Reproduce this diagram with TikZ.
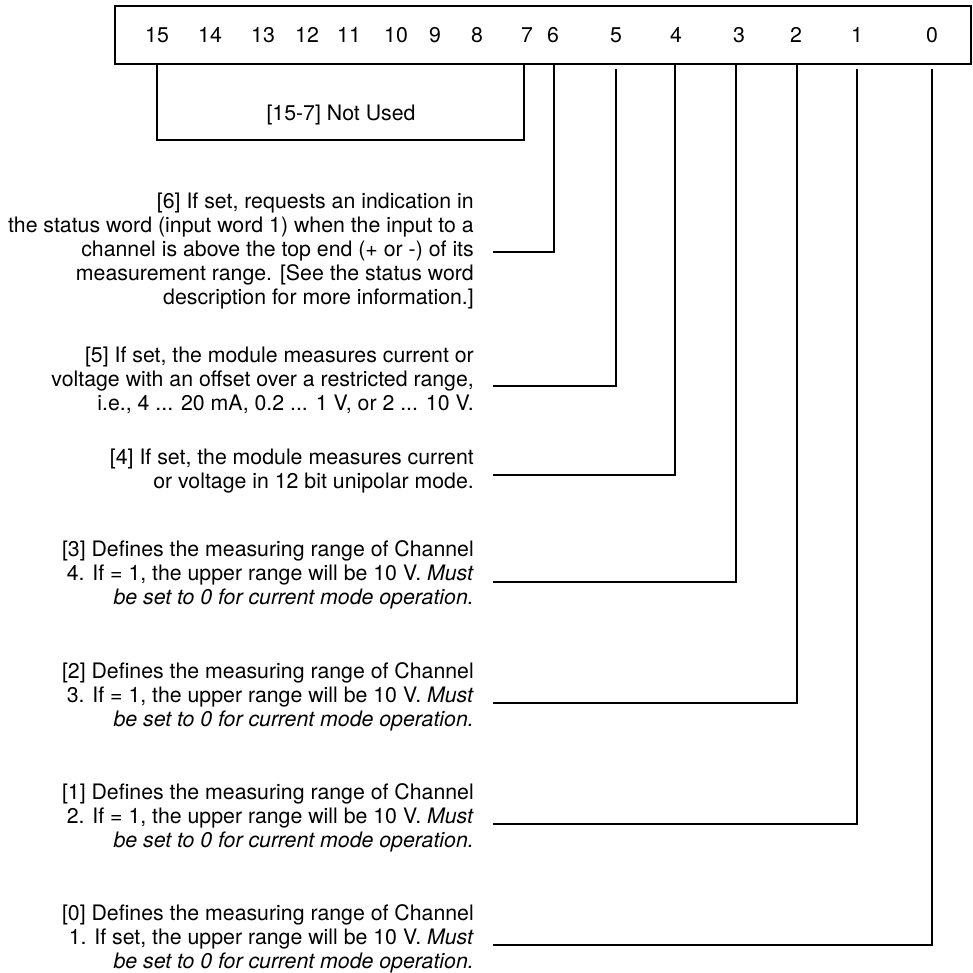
\documentclass[tikz,border=0pt]{standalone}
\usepackage{fontspec}
\setmainfont{TeX Gyre Heros}
\begin{document}
\begin{tikzpicture}[x=1pt,y=-1pt,
  every node/.style={inner sep=0pt,font=\fontsize{21.3}{24}\selectfont},
  bitlbl/.style={anchor=center},
  desc/.style={align=right,anchor=east},
  wire/.style={line width=2pt,line join=miter},
  regbox/.style={draw,line width=2pt,minimum width=856pt,minimum height=58pt}]
\useasboundingbox (0,0) rectangle (972,973);
\node[regbox] (reg) at (543,35) {};
% bit labels
\foreach \n/\x in {15/157,14/210,13/263,12/307,11/349,10/396,9/435,8/477,7/527,6/553,5/616,4/676,3/739,2/796,1/857,0/932}
  \node[bitlbl] (b\n) at (\x,35) {\n};
% not used bracket
\coordinate (u15) at (157,64);
\coordinate (u7) at (524,64);
\coordinate (ua) at (157,140);
\coordinate (ub) at (524,140);
\draw[wire] (u15) -- (ua) -- (ub) -- (u7);
\node (nu) at (341,115) {[15-7] Not Used};
% descriptions
\node[desc] (t6) at (474,251) {[6] If set, requests an indication in\\the status word (input word 1) when the input to a\\channel is above the top end (+ or -) of its\\measurement range. [See the status word\\description for more information.]};
\node[desc] (t5) at (474,380) {[5] If set, the module measures current or\\voltage with an offset over a restricted range,\\i.e., 4 ... 20 mA, 0.2 ... 1 V, or 2 ... 10 V.};
\node[desc] (t4) at (474,471) {[4] If set, the module measures current\\or voltage in 12 bit unipolar mode.};
\node[desc] (t3) at (474,575) {[3] Defines the measuring range of Channel\\4. If = 1, the upper range will be 10 V. \textit{Must}\\\textit{be set to 0 for current mode operation.}};
\node[desc] (t2) at (474,697) {[2] Defines the measuring range of Channel\\3. If = 1, the upper range will be 10 V. \textit{Must}\\\textit{be set to 0 for current mode operation.}};
\node[desc] (t1) at (474,818) {[1] Defines the measuring range of Channel\\2. If = 1, the upper range will be 10 V. \textit{Must}\\\textit{be set to 0 for current mode operation.}};
\node[desc] (t0) at (474,939) {[0] Defines the measuring range of Channel\\1. If set, the upper range will be 10 V. \textit{Must}\\\textit{be set to 0 for current mode operation.}};
% connectors
\foreach \n/\x/\ytop/\y in {6/554/64/252,5/616/69/386,4/675/64/475,3/736/64/582,2/797/64/703,1/857/69/824,0/932/69/945}{
  \coordinate (s\n) at (493,\y);
  \coordinate (c\n) at (\x,\y);
  \coordinate (e\n) at (\x,\ytop);
  \draw[wire] (s\n) -- (c\n) -- (e\n);
}
\end{tikzpicture}
\end{document}
